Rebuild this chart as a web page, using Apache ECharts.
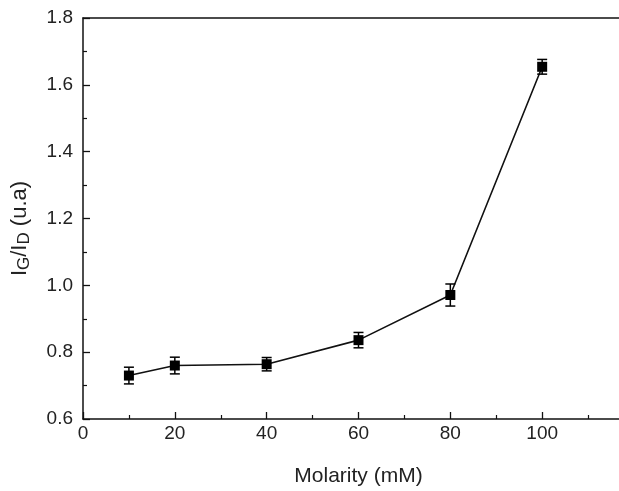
<!DOCTYPE html>
<html><head><meta charset="utf-8">
<script src="https://cdn.jsdelivr.net/npm/echarts@6/dist/echarts.min.js"></script>
<style>html,body{margin:0;padding:0;background:#fff;overflow:hidden}#c{width:634px;height:491px}</style>
</head><body><div id="c"></div>
<script>
const molarity = [10, 20, 40, 60, 80, 100];
const ratio = [0.730, 0.760, 0.764, 0.836, 0.971, 1.654];
const errors = [0.025, 0.025, 0.020, 0.023, 0.033, 0.022];

const FONT = 'Liberation Sans';
const chart = echarts.init(document.getElementById('c'));
const pts = molarity.map((m, i) => [m, ratio[i]]);
const errData = molarity.map((m, i) => [m, ratio[i] - errors[i], ratio[i] + errors[i]]);

chart.setOption({
  animation: false,
  grid: { left: 83, top: 18, right: 0, bottom: 72, containLabel: false, outerBoundsMode: 'none' },
  xAxis: [{
    type: 'value', min: 0, max: 120, interval: 20,
    name: 'Molarity (mM)', nameLocation: 'middle', nameGap: 47,
    nameTextStyle: { fontFamily: FONT, fontSize: 21, color: '#222' },
    axisLine: { lineStyle: { color: '#111', width: 1.5 } },
    axisTick: { inside: true, length: 7, lineStyle: { color: '#111', width: 1.3 } },
    minorTick: { show: true, splitNumber: 2, length: 4, lineStyle: { color: '#111', width: 1.2 } },
    axisLabel: { fontFamily: FONT, fontSize: 19, color: '#222', margin: 5,
      formatter: v => v > 100 ? '' : String(v) },
    splitLine: { show: false }
  }, {
    type: 'value', position: 'top', min: 0, max: 120,
    axisLine: { show: true, lineStyle: { color: '#111', width: 1.5 } },
    axisTick: { show: false }, axisLabel: { show: false }, splitLine: { show: false }
  }],
  yAxis: {
    type: 'value', min: 0.6, max: 1.8, interval: 0.2,
    name: '{i|I}{s|G}{i|/I}{s|D}{i| (u.a)}', nameLocation: 'middle', nameGap: 50, nameRotate: 90,
    nameTextStyle: { fontFamily: FONT, color: '#222', padding: [0, 20, 0, 0],
      rich: {
        i: { fontFamily: FONT, fontSize: 22, color: '#222', verticalAlign: 'middle', lineHeight: 26 },
        s: { fontFamily: FONT, fontSize: 17, color: '#222', verticalAlign: 'bottom', lineHeight: 26, padding: [11, 0, 0, 0] }
      } },
    axisLine: { show: true, lineStyle: { color: '#111', width: 1.5 } },
    axisTick: { inside: true, length: 7, lineStyle: { color: '#111', width: 1.3 } },
    minorTick: { show: true, splitNumber: 2, length: 4, lineStyle: { color: '#111', width: 1.2 } },
    axisLabel: { fontFamily: FONT, fontSize: 19, color: '#222', margin: 10,
      formatter: v => v.toFixed(1) },
    splitLine: { show: false }
  },
  series: [{
    type: 'line', data: pts, symbol: 'rect', symbolSize: 10,
    lineStyle: { color: '#111', width: 1.6 }, itemStyle: { color: '#000' }, z: 3
  }, {
    type: 'custom', data: errData, z: 4,
    renderItem: (params, api) => {
      const x = api.value(0);
      const lo = api.coord([x, api.value(1)]);
      const hi = api.coord([x, api.value(2)]);
      const w = 5;
      const st = { stroke: '#000', lineWidth: 1.5 };
      return { type: 'group', children: [
        { type: 'line', shape: { x1: lo[0], y1: lo[1], x2: hi[0], y2: hi[1] }, style: st },
        { type: 'line', shape: { x1: lo[0] - w, y1: lo[1], x2: lo[0] + w, y2: lo[1] }, style: st },
        { type: 'line', shape: { x1: hi[0] - w, y1: hi[1], x2: hi[0] + w, y2: hi[1] }, style: st }
      ] };
    }
  }]
});
</script></body></html>
